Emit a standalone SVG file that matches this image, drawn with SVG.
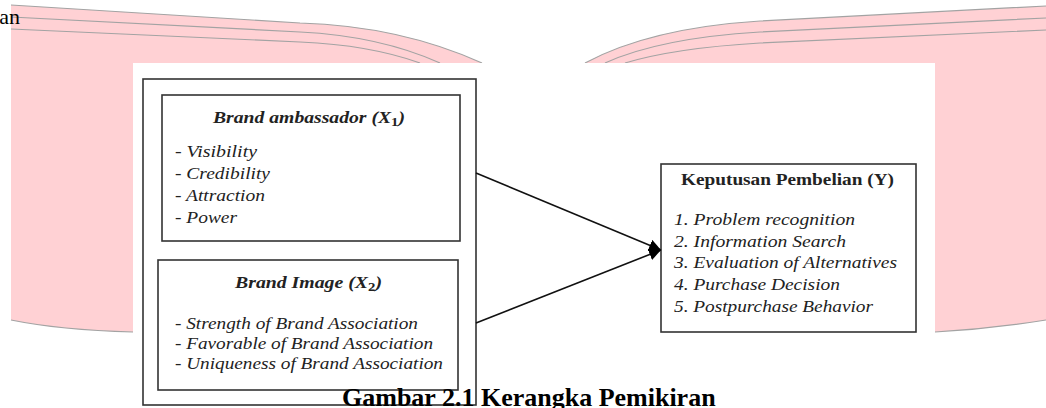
<svg xmlns="http://www.w3.org/2000/svg" width="1046" height="408" viewBox="0 0 1046 408">
<style>
.pink{fill:#ffd1d4;stroke:none}
.wm{fill:none;stroke:#a3a3a3;stroke-width:1.2}
.box{fill:none;stroke:#333;stroke-width:1.6}
.t{font-family:"Liberation Serif","Times New Roman",serif;font-size:16px;fill:#222}
.it{font-style:italic}
.bi{font-style:italic;font-weight:bold}
.b{font-weight:bold}
.cap{font-family:"Liberation Serif","Times New Roman",serif;font-size:26px;font-weight:bold;fill:#000}
.conn{fill:none;stroke:#111;stroke-width:1.6}
</style>
<defs>
<marker id="ah" markerUnits="userSpaceOnUse" markerWidth="13" markerHeight="12" refX="12" refY="6" orient="auto">
<path d="M0,0 L12,6 L0,12 Z" fill="#000"/>
</marker>
</defs>
<rect width="1046" height="408" fill="#fff"/>
<g id="watermark">
<path class="pink" d="M11,5 L300,23 Q400,26 482,63 L133,63 L133,332 Q60,330 11,320 Z"/>
<path class="pink" d="M585,63 Q650,28 760,21 L1046,6 L1046,320 Q990,329 935,332 L935,63 Z"/>
<path class="wm" d="M11,5 L300,23 Q400,26 482,63"/>
<path class="wm" d="M11,17 L300,32 Q380,36 440,63"/>
<path class="wm" d="M11,29 L300,42 Q370,45 420,63"/>
<path class="wm" d="M585,63 Q650,28 760,21 L1046,6"/>
<path class="wm" d="M605,63 Q660,38 760,32 L1046,18"/>
<path class="wm" d="M625,63 Q675,48 760,43 L1046,30"/>
<path class="wm" d="M11,320 Q60,330 133,332"/>
<path class="wm" d="M935,332 Q990,329 1046,320"/>
<text x="20" y="24" text-anchor="end" font-family="Liberation Serif, Times New Roman, serif" font-size="22" fill="#000">an</text>
</g>
<rect x="133" y="63" width="802" height="345" fill="#fff"/>
<g id="outer">
<rect class="box" x="143" y="79" width="333" height="326"/>
</g>
<g id="brand-ambassador">
<rect class="box" x="162" y="95" width="298" height="146"/>
<text class="t bi" x="213" y="123" textLength="192" lengthAdjust="spacingAndGlyphs">Brand ambassador (X<tspan class="b" style="font-style:normal" font-size="12" dy="3">1</tspan><tspan dy="-3">)</tspan></text>
<text class="t it" x="175" y="157" textLength="82" lengthAdjust="spacingAndGlyphs">- Visibility</text>
<text class="t it" x="175" y="179" textLength="95" lengthAdjust="spacingAndGlyphs">- Credibility</text>
<text class="t it" x="175" y="201" textLength="90" lengthAdjust="spacingAndGlyphs">- Attraction</text>
<text class="t it" x="175" y="223" textLength="62" lengthAdjust="spacingAndGlyphs">- Power</text>
</g>
<g id="brand-image">
<rect class="box" x="158" y="260" width="300" height="130"/>
<text class="t bi" x="235" y="288" textLength="147" lengthAdjust="spacingAndGlyphs">Brand Image (X<tspan class="b" style="font-style:normal" font-size="12" dy="3">2</tspan><tspan dy="-3">)</tspan></text>
<text class="t it" x="175" y="329" textLength="243" lengthAdjust="spacingAndGlyphs">- Strength of Brand Association</text>
<text class="t it" x="175" y="349" textLength="258" lengthAdjust="spacingAndGlyphs">- Favorable of Brand Association</text>
<text class="t it" x="175" y="369" textLength="268" lengthAdjust="spacingAndGlyphs">- Uniqueness of Brand Association</text>
</g>
<g id="keputusan">
<rect class="box" x="661" y="164" width="255" height="168"/>
<text class="t b" x="681" y="185" textLength="213" lengthAdjust="spacingAndGlyphs">Keputusan Pembelian (Y)</text>
<text class="t it" x="674" y="225" textLength="181" lengthAdjust="spacingAndGlyphs">1. Problem recognition</text>
<text class="t it" x="674" y="247" textLength="172" lengthAdjust="spacingAndGlyphs">2. Information Search</text>
<text class="t it" x="674" y="268" textLength="223" lengthAdjust="spacingAndGlyphs">3. Evaluation of Alternatives</text>
<text class="t it" x="674" y="290" textLength="166" lengthAdjust="spacingAndGlyphs">4. Purchase Decision</text>
<text class="t it" x="674" y="312" textLength="199" lengthAdjust="spacingAndGlyphs">5. Postpurchase Behavior</text>
</g>
<g id="connectors">
<line class="conn" x1="476" y1="173" x2="661" y2="250" marker-end="url(#ah)"/>
<line class="conn" x1="476" y1="323" x2="661" y2="250" marker-end="url(#ah)"/>
</g>
<g id="caption">
<text class="cap" x="342" y="406">Gambar 2.1 Kerangka Pemikiran</text>
</g>
</svg>
